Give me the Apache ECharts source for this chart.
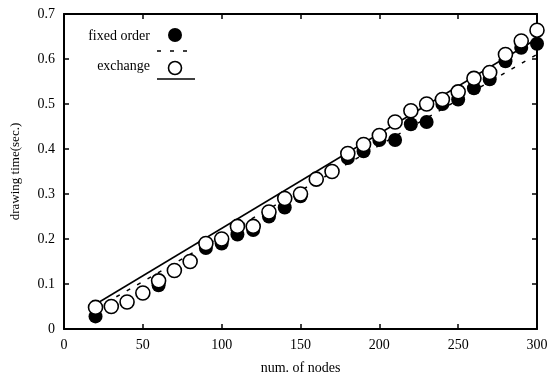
<!DOCTYPE html>
<html><head><meta charset="utf-8">
<script src="https://cdn.jsdelivr.net/npm/echarts@6/dist/echarts.min.js"></script>
<style>html,body{margin:0;padding:0;background:#fff}#c{width:552px;height:380px}</style>
</head><body><div id="c"></div>
<script>
var nodes = [20,30,40,50,60,70,80,90,100,110,120,130,140,150,160,170,180,190,200,210,220,230,240,250,260,270,280,290,300];
var fixedOrder = [0.028,0.05,0.06,0.08,0.097,0.13,0.15,0.18,0.19,0.21,0.22,0.25,0.27,0.295,0.333,0.35,0.38,0.395,0.42,0.42,0.455,0.46,0.50,0.51,0.535,0.555,0.595,0.625,0.634];
var exchange   = [0.048,0.05,0.06,0.08,0.107,0.13,0.15,0.19,0.20,0.228,0.228,0.26,0.29,0.30,0.333,0.35,0.39,0.41,0.43,0.46,0.485,0.50,0.51,0.527,0.557,0.57,0.61,0.64,0.664];
var fitX = [20, 300];
var fixedFit = [0.045, 0.61];
var exchangeFit = [0.055, 0.645];
var xTicks = {min: 0, max: 300, step: 50};
var yTicks = {min: 0, max: 0.7, step: 0.1};

var F = 'Liberation Serif';
function pairs(xs, ys){ return xs.map(function(x,i){ return [x, ys[i]]; }); }
var axisLine = {show:true, onZero:false, lineStyle:{color:'#000', width:2}};
var tick = {show:true, inside:true, length:5, lineStyle:{color:'#000', width:1.5}};
var lbl = {color:'#000', fontFamily:F, fontSize:14};

var chart = echarts.init(document.getElementById('c'), null, {renderer:'canvas'});
chart.setOption({
  animation:false,
  backgroundColor:'#fff',
  grid:{left:64, right:15, top:14, bottom:47},
  xAxis:[
    {type:'value', min:xTicks.min, max:xTicks.max, interval:xTicks.step, position:'bottom',
     axisLine:axisLine, axisTick:tick, splitLine:{show:false},
     axisLabel:Object.assign({margin:9}, lbl),
     name:'num. of nodes', nameLocation:'middle', nameGap:32,
     nameTextStyle:{color:'#000', fontFamily:F, fontSize:14}},
    {type:'value', min:xTicks.min, max:xTicks.max, interval:xTicks.step, position:'top',
     axisLine:axisLine, axisTick:tick, splitLine:{show:false}, axisLabel:{show:false}}
  ],
  yAxis:[
    {type:'value', min:yTicks.min, max:yTicks.max, interval:yTicks.step, position:'left',
     axisLine:axisLine, axisTick:tick, splitLine:{show:false},
     axisLabel:Object.assign({margin:9}, lbl),
     name:'drawing time(sec.)', nameLocation:'middle', nameGap:42, nameRotate:90,
     nameTextStyle:{color:'#000', fontFamily:F, fontSize:13}},
    {type:'value', min:yTicks.min, max:yTicks.max, interval:yTicks.step, position:'right',
     axisLine:axisLine, axisTick:tick, splitLine:{show:false}, axisLabel:{show:false}}
  ],
  series:[
    {name:'fixed order fit', type:'line', data:pairs(fitX, fixedFit), symbol:'none',
     lineStyle:{color:'#000', width:1.5, type:[4,8]}, z:1},
    {name:'exchange fit', type:'line', data:pairs(fitX, exchangeFit), symbol:'none',
     lineStyle:{color:'#000', width:1.5}, z:1},
    {name:'fixed order', type:'scatter', data:pairs(nodes, fixedOrder), symbol:'circle', symbolSize:14,
     itemStyle:{color:'#000', opacity:1}, z:2},
    {name:'exchange', type:'scatter', data:pairs(nodes, exchange), symbol:'circle', symbolSize:14,
     itemStyle:{color:'#fff', borderColor:'#000', borderWidth:1.6, opacity:1}, z:3}
  ],
  graphic:[
    {type:'text', x:150, y:36, style:{text:'fixed order', fill:'#000', font:'14px "Liberation Serif"', textAlign:'right', textVerticalAlign:'middle'}},
    {type:'circle', shape:{cx:175, cy:35, r:7}, style:{fill:'#000'}},
    {type:'line', shape:{x1:157, y1:51, x2:195, y2:51}, style:{stroke:'#000', lineWidth:1.5, lineDash:[4,9]}},
    {type:'text', x:150, y:66, style:{text:'exchange', fill:'#000', font:'14px "Liberation Serif"', textAlign:'right', textVerticalAlign:'middle'}},
    {type:'circle', shape:{cx:175, cy:68, r:6.5}, style:{fill:'#fff', stroke:'#000', lineWidth:1.6}},
    {type:'line', shape:{x1:157, y1:79, x2:195, y2:79}, style:{stroke:'#000', lineWidth:1.5}}
  ]
});
</script></body></html>
